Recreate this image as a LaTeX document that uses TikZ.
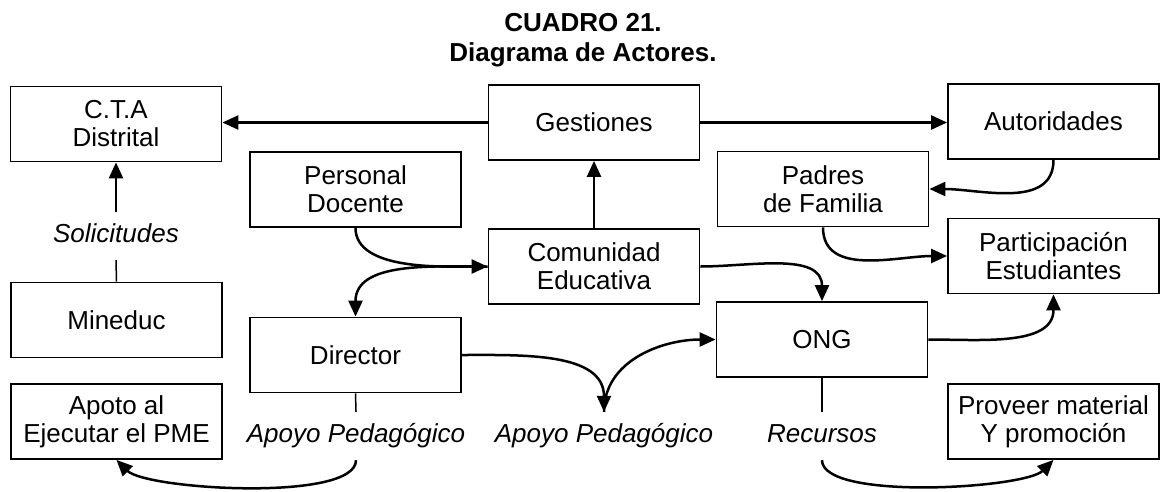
\documentclass[tikz,border=0pt]{standalone}
\usepackage{fontspec}
\setmainfont{Liberation Sans}
\usetikzlibrary{arrows.meta}
\begin{document}
\begin{tikzpicture}[x=1pt,y=-1pt,
  box/.style={draw, line width=1.8pt, minimum width=211pt, minimum height=75pt,
    align=center, inner sep=0pt, font=\fontsize{26}{28}\selectfont},
  lbl/.style={font=\fontsize{26}{28}\selectfont\itshape, text height=18pt,
    text depth=6pt, inner xsep=2pt, inner ysep=12pt},
  arr/.style={line width=2.5pt, -{Triangle[length=16pt,width=14pt]}},
  plainln/.style={line width=1.5pt},
  ttl/.style={font=\fontsize{26}{30}\selectfont\bfseries, anchor=base}]
\fill[white] (0,0) rectangle (1160,491);
\useasboundingbox (0,0) rectangle (1160,491);

% title
\node[ttl] (t1) at (583,31) {CUADRO 21.};
\node[ttl] (t2) at (583,61) {Diagrama de Actores.};

% boxes
\node[box] (cta)    at (116,124)    {C.T.A\\Distrital};
\node[box] (gest)   at (594,122.5)  {Gestiones};
\node[box] (auto)   at (1053.5,121.5) {Autoridades};
\node[box] (pers)   at (355.5,189.5) {Personal\\Docente};
\node[box] (padres) at (823,189)    {Padres\\de Familia};
\node[box] (comun)  at (594,266.5)  {Comunidad\\Educativa};
\node[box] (partic) at (1053.5,256) {Participación\\Estudiantes};
\node[box] (ong)    at (822,339.5)  {ONG};
\node[box] (dir)    at (355.5,355)  {Director};
\node[box] (mine)   at (116.5,320)  {Mineduc};
\node[box] (apoto)  at (116.5,421.5) {Apoto al\\Ejecutar el PME};
\node[box] (prov)   at (1053.5,421.5) {Proveer material\\Y promoción};

% labels
\node[lbl] (soli) at (116,236) {Solicitudes};
\node[lbl] (ap1)  at (356,436) {Apoyo Pedagógico};
\node[lbl] (ap2)  at (604,436) {Apoyo Pedagógico};
\node[lbl] (rec)  at (822,436) {Recursos};

% straight connectors
\draw[arr] (gest.west) -- (gest.west -| cta.east);
\draw[arr] (gest.east) -- (gest.east -| auto.west);
\draw[arr] (comun.north) -- (gest.south);
\draw[arr] (soli.north) -- (soli.north |- cta.south);
\draw[plainln] (mine.north) -- (soli.south);
\draw[plainln] (dir.south) -- (ap1.north);
\draw[plainln] (ong.south) -- (rec.north);

% curved connectors
\draw[arr] (auto.south) to[out=-90,in=0] (padres.east);
\draw[arr] (padres.south) to[out=-90,in=180] (partic.west);
\draw[arr] (pers.south) to[out=-90,in=180,looseness=0.8] (comun.west);
\draw[arr] (comun.west) to[out=180,in=90] (dir.north);
\draw[arr] (comun.east) to[out=0,in=90] (ong.north);
\draw[arr] (dir.east) to[out=0,in=90] (ap2.north);
\draw[arr] (ap2.north) to[out=90,in=180] (ong.west);
\draw[arr] (ong.east) to[out=0,in=-90] (partic.south);
\draw[arr] (ap1.south) to[out=-90,in=-45,looseness=0.45] (apoto.south);
\draw[arr] (rec.south) to[out=-90,in=-135,looseness=0.45] (prov.south);
\end{tikzpicture}
\end{document}
